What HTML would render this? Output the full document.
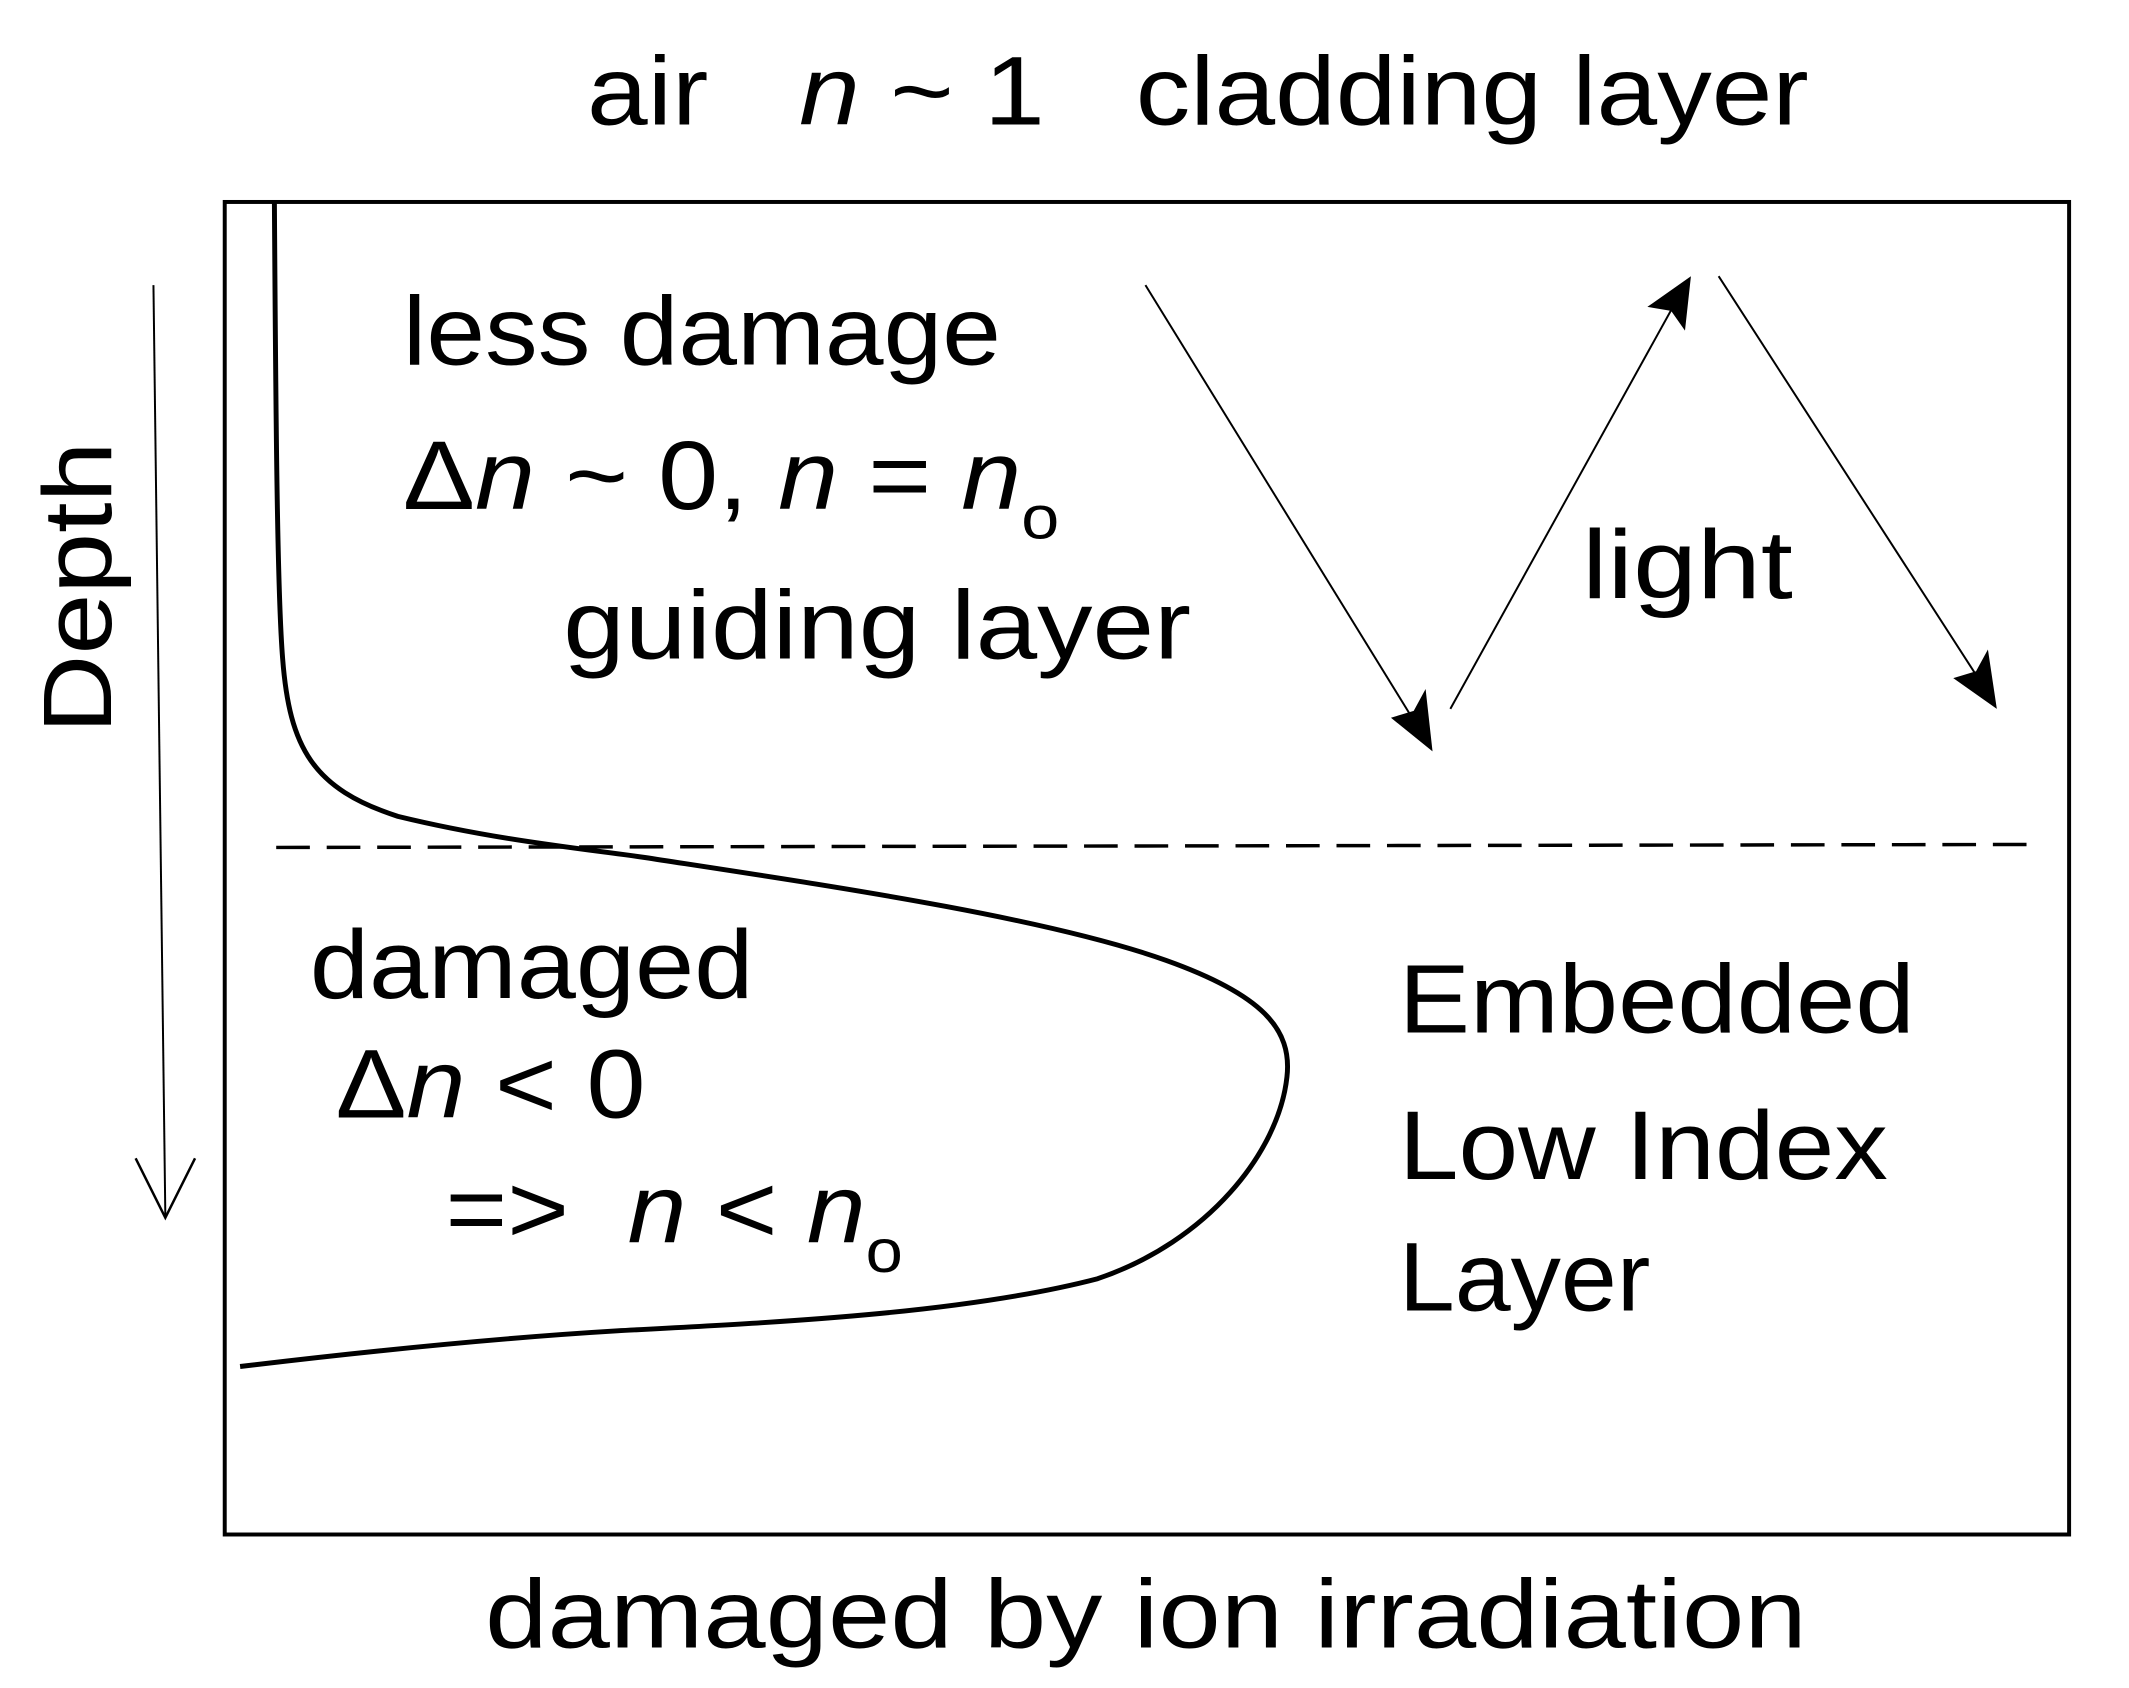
<!DOCTYPE html>
<html><head><meta charset="utf-8"><style>html,body{margin:0;padding:0;background:#fff}svg{display:block}</style></head>
<body>
<svg width="2129" height="1688" viewBox="0 0 2129 1688" xmlns="http://www.w3.org/2000/svg" font-family="Liberation Sans, sans-serif" font-size="98" fill="#000">
<g transform="scale(0.99)">
<rect x="227" y="204" width="1863" height="1346" fill="none" stroke="#000" stroke-width="4"/>
<text x="593" y="126" textLength="1234" lengthAdjust="spacingAndGlyphs">air&#160;&#160; <tspan font-style="italic">n</tspan> ~ 1&#160;&#160; cladding layer</text>
<text transform="translate(112,741) rotate(-90)" textLength="295" lengthAdjust="spacingAndGlyphs">Depth</text>
<line x1="155" y1="288" x2="167" y2="1228" stroke="#000" stroke-width="2"/>
<path d="M137 1170 L167 1230 L197 1170" fill="none" stroke="#000" stroke-width="2.5"/>
<line x1="279" y1="856" x2="2051" y2="853" stroke="#000" stroke-width="3.5" stroke-dasharray="34,17"/>
<text x="407" y="368" textLength="604" lengthAdjust="spacingAndGlyphs">less damage</text>
<text x="407" y="514" textLength="663" lengthAdjust="spacingAndGlyphs">Δ<tspan font-style="italic">n</tspan> ~ 0, <tspan font-style="italic">n</tspan> = <tspan font-style="italic">n</tspan><tspan font-size="62" dy="30">o</tspan></text>
<text x="569" y="665" textLength="634" lengthAdjust="spacingAndGlyphs">guiding layer</text>
<text x="1598" y="604" textLength="213" lengthAdjust="spacingAndGlyphs">light</text>
<g stroke="#000" stroke-width="2" fill="none">
<line x1="1157" y1="288" x2="1443" y2="752"/>
<line x1="1465" y1="716" x2="1702" y2="288"/>
<line x1="1736" y1="279" x2="2013" y2="708"/>
</g>
<path d="M1447 759 L1405 725 L1428 718 L1440 696 Z" fill="#000"/>
<path d="M1708 279 L1702 334 L1688 314 L1664 310 Z" fill="#000"/>
<path d="M2017 716 L1973 685 L1996 678 L2008 656 Z" fill="#000"/>
<text x="313" y="1008" textLength="448" lengthAdjust="spacingAndGlyphs">damaged</text>
<text x="339" y="1129" textLength="313" lengthAdjust="spacingAndGlyphs">Δ<tspan font-style="italic">n</tspan> &lt; 0</text>
<text x="450" y="1255" textLength="462" lengthAdjust="spacingAndGlyphs">=&gt;&#160; <tspan font-style="italic">n</tspan> &lt; <tspan font-style="italic">n</tspan><tspan font-size="62" dy="30">o</tspan></text>
<text x="1413" y="1043" textLength="521" lengthAdjust="spacingAndGlyphs">Embedded</text>
<text x="1413" y="1191" textLength="494" lengthAdjust="spacingAndGlyphs">Low Index</text>
<text x="1413" y="1324" textLength="254" lengthAdjust="spacingAndGlyphs">Layer</text>
<text x="490" y="1664" textLength="1335" lengthAdjust="spacingAndGlyphs">damaged by ion irradiation</text>
</g>
<g transform="scale(1.372)">
<path d="M200 148 C201 300 202 430 206 480 C211 545 228 575 290 595 C360 612 420 618 470 625 C600 645 760 668 850 700 C920 725 942 750 938 785 C932 840 880 905 800 932 C700 958 560 964 450 970 C350 976 250 987 175 996" fill="none" stroke="#000" stroke-width="3.6"/>
</g>
</svg>
</body></html>
